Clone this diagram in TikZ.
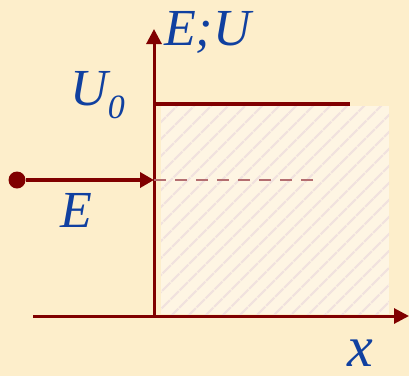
\documentclass[tikz,border=0pt]{standalone}
\usepackage{fontspec}
\setmainfont{Liberation Serif}
\usetikzlibrary{arrows.meta,patterns.meta}
\definecolor{paper}{HTML}{FDEECB}
\definecolor{wine}{HTML}{800000}
\definecolor{ink}{HTML}{1040A0}
\definecolor{wallfill}{HTML}{FEF5E3}
\definecolor{hatch}{HTML}{F1E2DE}
\definecolor{faint}{HTML}{B46E70}
\tikzset{
  axis/.style={draw=wine, line width=3pt, -{Triangle[length=15pt,width=15pt]}},
  arrow/.style={draw=wine, line width=4pt, -{Triangle[length=14pt,width=15pt]}},
  level/.style={draw=wine, line width=4pt},
  guide/.style={draw=faint, line width=2pt, dash pattern=on 12pt off 9pt},
  dot/.style={circle, fill=wine, inner sep=0pt, minimum size=17pt},
  sym/.style={text=ink, font=\fontsize{52}{56}\selectfont\itshape, inner sep=0pt, anchor=base west},
  wall/.style={fill=wallfill, postaction={pattern={Lines[angle=45,distance=13pt,line width=2.5pt]}, pattern color=hatch}}
}
\begin{document}
\begin{tikzpicture}[x=1pt,y=-1pt]
\useasboundingbox (0,0) rectangle (409,376);
\fill[paper] (0,0) rectangle (409,376);
% potential step region
\fill[wall] (161,106) rectangle (389,314);
% axes
\coordinate (O) at (154,316);
\coordinate (xl) at (33,316);
\coordinate (xr) at (409,316);
\coordinate (yt) at (154,29);
\draw[axis] (xl) -- (xr);
\draw[axis] (O) -- (yt);
% barrier top
\coordinate (u1) at (154,104);
\coordinate (u2) at (350,104);
\draw[level] (u1) -- (u2);
% incoming particle
\node[dot] (src) at (17,180) {};
\coordinate (hit) at (154,180);
\coordinate (gend) at (320,180);
\draw[guide] (hit) -- (gend);
\draw[arrow] (src) -- (hit);
% labels
\node[sym] (lEU) at (164,45) {E;U};
\node[sym] (lU0) at (70,105) {U\raisebox{-13pt}{\fontsize{34}{36}\selectfont 0}};
\node[sym] (lE) at (60,227) {E};
\node[sym, font=\fontsize{58}{62}\selectfont\itshape] (lx) at (347,366) {x};
\end{tikzpicture}
\end{document}
